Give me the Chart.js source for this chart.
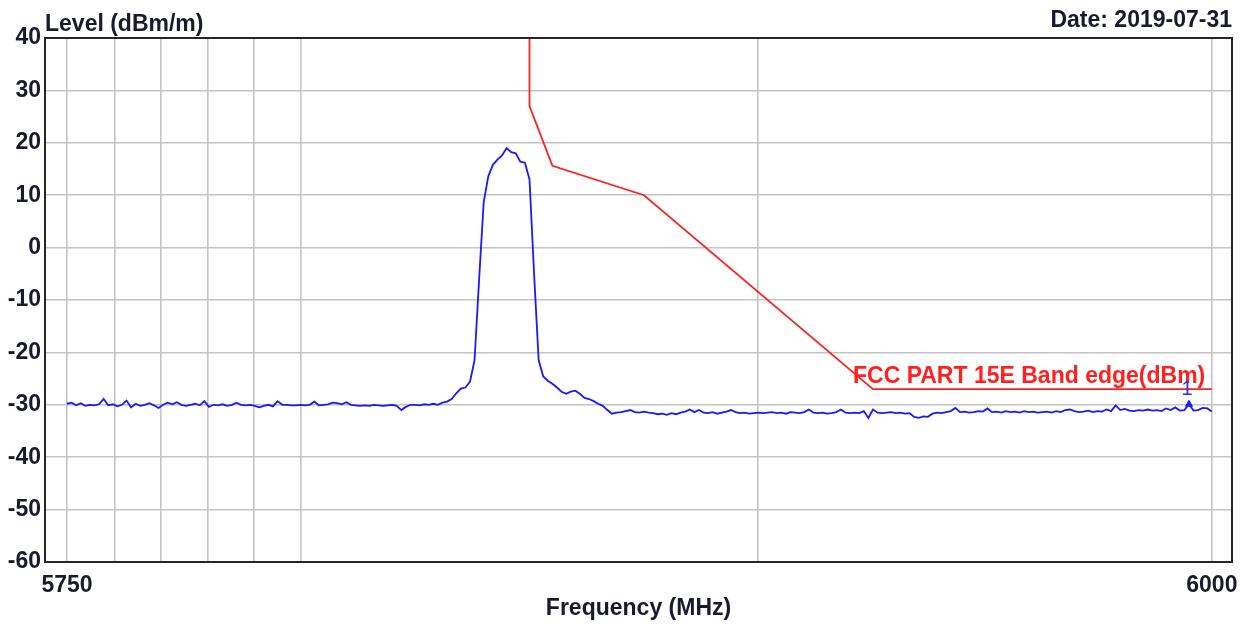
<!DOCTYPE html>
<html>
<head>
<meta charset="utf-8">
<title>FCC Part 15E band edge</title>
<script src="https://cdn.jsdelivr.net/npm/chart.js@4.4.1/dist/chart.umd.min.js"></script>
<style>
  html, body { margin: 0; padding: 0; background: #fff; }
  #wrap { width: 1253px; height: 628px; }
</style>
</head>
<body>
<div id="wrap"><canvas id="bandEdge" width="1253" height="628"></canvas></div>
<script>
// SWEEP: one reading per MHz starting at 5750 MHz
const sweepStartMHz = 5750;
const sweepStepMHz = 1;
const traceLevel = [
  -29.8, -29.6, -30.1, -29.7, -30.2, -30.0, -30.1, -29.9, -28.9, -30.1,
  -29.9, -30.3, -30.0, -29.2, -30.5, -29.8, -30.2, -30.0, -29.7, -30.1,
  -30.6, -30.0, -29.6, -29.9, -29.5, -30.0, -30.2, -30.0, -29.8, -30.1,
  -29.3, -30.4, -30.0, -30.1, -29.9, -30.2, -30.0, -29.6, -30.0, -30.1,
  -30.0, -30.2, -30.5, -30.2, -30.0, -30.3, -29.3, -30.0, -30.0, -30.1,
  -30.1, -30.0, -30.1, -30.0, -29.4, -30.1, -30.0, -29.9, -29.6, -29.7,
  -29.9, -29.5, -30.0, -30.1, -30.2, -30.1, -30.2, -30.0, -30.1, -30.2,
  -30.1, -30.0, -30.2, -31.0, -30.4, -30.0, -30.0, -30.1, -29.9, -30.0,
  -29.8, -30.0, -29.6, -29.4,
  // carrier
  -28.9, -27.8, -26.9, -26.7, -25.6, -21.5, -6.0, 8.7, 13.6, 15.8,
  16.8, 17.6, 19.0, 18.2, 18.0, 16.4, 16.2, 13.0, -5.0, -21.5,
  -24.6, -25.4, -26.0, -26.7, -27.5, -27.9, -27.5, -27.3, -27.9, -28.7,
  -28.9, -29.3, -29.8, -30.2, -31.0, -31.7, -31.5, -31.4, -31.2, -31.0,
  // upper floor
  -31.4, -31.5, -31.3, -31.5, -31.6, -31.8, -31.7, -31.9, -31.6, -31.8,
  -31.5, -31.3, -30.9, -31.4, -31.0, -31.5, -31.6, -31.4, -31.7, -31.5,
  -31.3, -31.0, -31.4, -31.6, -31.5, -31.7, -31.6, -31.5, -31.6, -31.5,
  -31.4, -31.6, -31.5, -31.7, -31.4, -31.5, -31.6, -31.4, -30.9, -31.5,
  -31.6, -31.5, -31.7, -31.6, -31.4, -30.9, -31.5, -31.6, -31.5, -31.6,
  -31.2, -32.5, -30.9, -31.5, -31.6, -31.5, -31.4, -31.6, -31.5, -31.7,
  -31.6, -32.3, -32.5, -32.2, -32.3, -31.7, -31.5, -31.6, -31.4, -31.2,
  -30.6, -31.4, -31.3, -31.5, -31.4, -31.2, -31.3, -30.7, -31.4, -31.3,
  -31.5, -31.2, -31.4, -31.3, -31.5, -31.2, -31.4, -31.3, -31.5, -31.4,
  -31.3, -31.5, -31.2, -31.4, -31.0, -30.9, -31.2, -31.4, -31.3, -31.1,
  -31.4, -31.2, -31.3, -30.9, -31.2, -30.1, -31.0, -30.8, -31.1, -31.2,
  -31.0, -31.1, -30.9, -31.1, -31.0, -31.2, -30.7, -31.0, -30.5, -31.1,
  -31.0, -29.9, -31.1, -31.0, -30.6, -30.7, -31.3
];

// LIMIT LINE (band edge mask)
const limitFreq = [5851, 5851, 5856, 5876, 5926, 6000];
const limitLevel = [100, 27, 15.6, 10, -27, -27];

// MARKER 1
const markerFreq = [5995];
const markerLevel = [-29.9];

// AXES
const gridFreq = [5750, 5760.5, 5770.5, 5780.8, 5790.8, 5801, 5900.8, 6000];
const freqLabels = { 5750: '5750', 6000: '6000' };
const freqMin = 5745.2, freqMax = 6004.4;
const levelMin = -60, levelMax = 40, levelStep = 10;

const fontFamily = "'Liberation Sans', Arial, sans-serif";
const inkColor = '#1a1a2e';
const boldFont = { family: fontFamily, size: 23, weight: 'bold' };

const tracePoints = traceLevel.map((v, i) => ({ x: sweepStartMHz + i * sweepStepMHz, y: v }));
const limitPoints = limitFreq.map((f, i) => ({ x: f, y: limitLevel[i] }));
const markerPoints = markerFreq.map((f, i) => ({ x: f, y: markerLevel[i] }));

// frame, header texts, limit caption and marker number
const annotations = {
  id: 'annotations',
  afterDatasetsDraw(chart) {
    const { ctx, chartArea: a, scales: { x, y } } = chart;
    ctx.save();
    ctx.strokeStyle = '#262626';
    ctx.lineWidth = 2;
    ctx.strokeRect(a.left, a.top, a.right - a.left, a.bottom - a.top);

    ctx.font = `bold 23px ${fontFamily}`;
    ctx.fillStyle = inkColor;
    ctx.textBaseline = 'alphabetic';
    ctx.textAlign = 'left';
    ctx.fillText('Level (dBm/m)', a.left, 31);
    ctx.textAlign = 'right';
    ctx.fillText('Date: 2019-07-31', a.right, 27);

    ctx.fillStyle = '#ff2020';
    ctx.textAlign = 'left';
    ctx.fillText('FCC PART 15E Band edge(dBm)',
      x.getPixelForValue(limitFreq[4]) - 20, y.getPixelForValue(limitLevel[4]) - 6);

    ctx.fillStyle = '#2a2aff';
    ctx.font = `20px ${fontFamily}`;
    ctx.textAlign = 'center';
    ctx.fillText('1', x.getPixelForValue(markerFreq[0]) - 2, y.getPixelForValue(markerLevel[0]) - 9);
    ctx.restore();
  }
};

new Chart(document.getElementById('bandEdge'), {
  type: 'line',
  data: {
    datasets: [
      {
        label: 'Level',
        data: tracePoints,
        borderColor: '#1a1aff',
        borderWidth: 1.8,
        pointRadius: 0,
        tension: 0
      },
      {
        label: 'FCC PART 15E Band edge(dBm)',
        data: limitPoints,
        borderColor: '#ff2020',
        borderWidth: 1.8,
        pointRadius: 0,
        tension: 0
      },
      {
        label: 'Marker',
        data: markerPoints,
        showLine: false,
        pointStyle: 'triangle',
        pointRadius: 4,
        backgroundColor: '#1a1aff',
        borderColor: '#1a1aff'
      }
    ]
  },
  options: {
    responsive: false,
    animation: false,
    layout: { padding: { top: 38, right: 21, left: 0, bottom: 0 } },
    plugins: {
      legend: { display: false },
      tooltip: { enabled: false }
    },
    scales: {
      x: {
        type: 'linear',
        min: freqMin,
        max: freqMax,
        afterFit(scale) { scale.height = 66; },
        afterBuildTicks(scale) { scale.ticks = gridFreq.map(v => ({ value: v })); },
        grid: { color: '#c4c4c4', lineWidth: 1.6, drawTicks: false },
        border: { display: false },
        ticks: {
          autoSkip: false,
          maxRotation: 0,
          padding: 10,
          color: inkColor,
          font: boldFont,
          callback: v => freqLabels[v] || ''
        },
        title: {
          display: true,
          text: 'Frequency (MHz)',
          color: inkColor,
          font: boldFont,
          padding: { top: 0, bottom: 6 }
        }
      },
      y: {
        min: levelMin,
        max: levelMax,
        afterFit(scale) { scale.width = 45; },
        grid: { color: '#c4c4c4', lineWidth: 1.6, drawTicks: false },
        border: { display: false },
        ticks: {
          stepSize: levelStep,
          padding: 4,
          color: inkColor,
          font: boldFont
        }
      }
    }
  },
  plugins: [annotations]
});
</script>
</body>
</html>
